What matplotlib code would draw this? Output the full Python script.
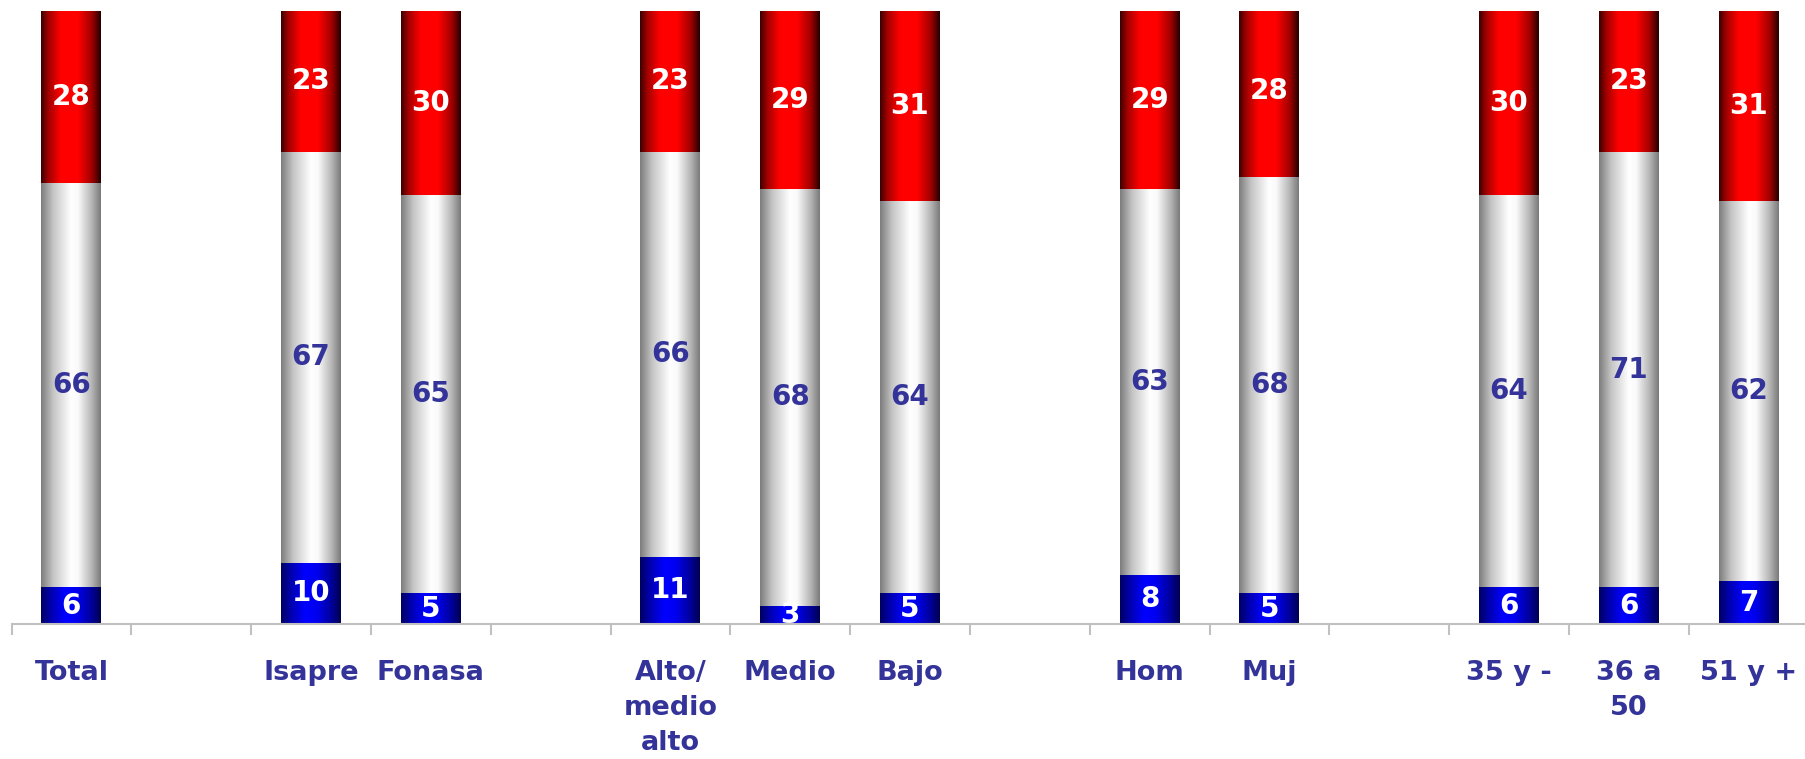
import numpy as np
import matplotlib
matplotlib.use("Agg")
import matplotlib.pyplot as plt
from matplotlib.colors import LinearSegmentedColormap

categories = ["Total", "", "Isapre", "Fonasa", "", "Alto/\nmedio\nalto", "Medio", "Bajo",
              "", "Hom", "Muj", "", "35 y -", "36 a\n50", "51 y +"]
nan = np.nan
blue_vals = [6, nan, 10, 5, nan, 11, 3, 5, nan, 8, 5, nan, 6, 6, 7]
gray_vals = [66, nan, 67, 65, nan, 66, 68, 64, nan, 63, 68, nan, 64, 71, 62]
red_vals = [28, nan, 23, 30, nan, 23, 29, 31, nan, 29, 28, nan, 30, 23, 31]

label_color = "#333399"

cmap_red = LinearSegmentedColormap.from_list("r", [(0, "#3c0000"), (0.12, "#a00000"), (0.33, "#ff0000"),
                                                   (0.62, "#ff0000"), (0.85, "#a00000"), (1, "#240000")])
cmap_gray = LinearSegmentedColormap.from_list("g", [(0, "#7c7c7c"), (0.2, "#c4c4c4"), (0.5, "#ffffff"),
                                                    (0.62, "#fafafa"), (0.85, "#b4b4b4"), (1, "#7a7a7a")])
cmap_blue = LinearSegmentedColormap.from_list("b", [(0, "#000060"), (0.15, "#0000a8"), (0.4, "#0000ff"),
                                                    (0.6, "#0000f0"), (0.85, "#000098"), (1, "#000050")])

fig = plt.figure(figsize=(18.05, 7.59), dpi=100)
ax = fig.add_axes([11.5 / 1805, 135 / 759, 1797 / 1805, 613 / 759])

x = np.arange(len(categories))
blue = np.array(blue_vals, dtype=float)
gray = np.array(gray_vals, dtype=float)
red = np.array(red_vals, dtype=float)
width = 0.5

grad = np.linspace(0, 1, 256).reshape(1, -1)
segments = [
    (blue, np.zeros_like(blue), cmap_blue, "white"),
    (gray, blue, cmap_gray, label_color),
    (red, blue + gray, cmap_red, "white"),
]
for vals, bottoms, cmap, tcolor in segments:
    bars = ax.bar(x, vals, width, bottom=bottoms, color="none", edgecolor="none")
    for rect, v in zip(bars, vals):
        if np.isnan(v):
            continue
        x0, y0 = rect.get_x(), rect.get_y()
        w, h = rect.get_width(), rect.get_height()
        ax.imshow(grad, cmap=cmap, extent=(x0, x0 + w, y0, y0 + h), aspect="auto",
                  interpolation="bilinear", zorder=2)
        ax.text(x0 + w / 2, y0 + h / 2, f"{int(v)}", ha="center", va="center",
                color=tcolor, fontsize=20, fontweight="bold", family="DejaVu Sans", zorder=3)

ax.set_xlim(-0.5, len(categories) - 0.5)
ax.set_ylim(0, 100)
ax.set_xticks(x)
ax.set_xticklabels(categories, fontsize=19.5, fontweight="bold", color=label_color, linespacing=1.45)
ax.set_xticks(np.arange(-0.5, len(categories), 1), minor=True)
ax.tick_params(axis="x", which="major", length=0, pad=26)
ax.tick_params(axis="x", which="minor", length=8, width=1.5, color="#c0c0c0", direction="out")
ax.set_yticks([])
for s in ["top", "left", "right"]:
    ax.spines[s].set_visible(False)
ax.spines["bottom"].set_color("#c0c0c0")
ax.spines["bottom"].set_linewidth(1.5)
ax.spines["bottom"].set_zorder(4)

fig.savefig("out.png", dpi=100)
